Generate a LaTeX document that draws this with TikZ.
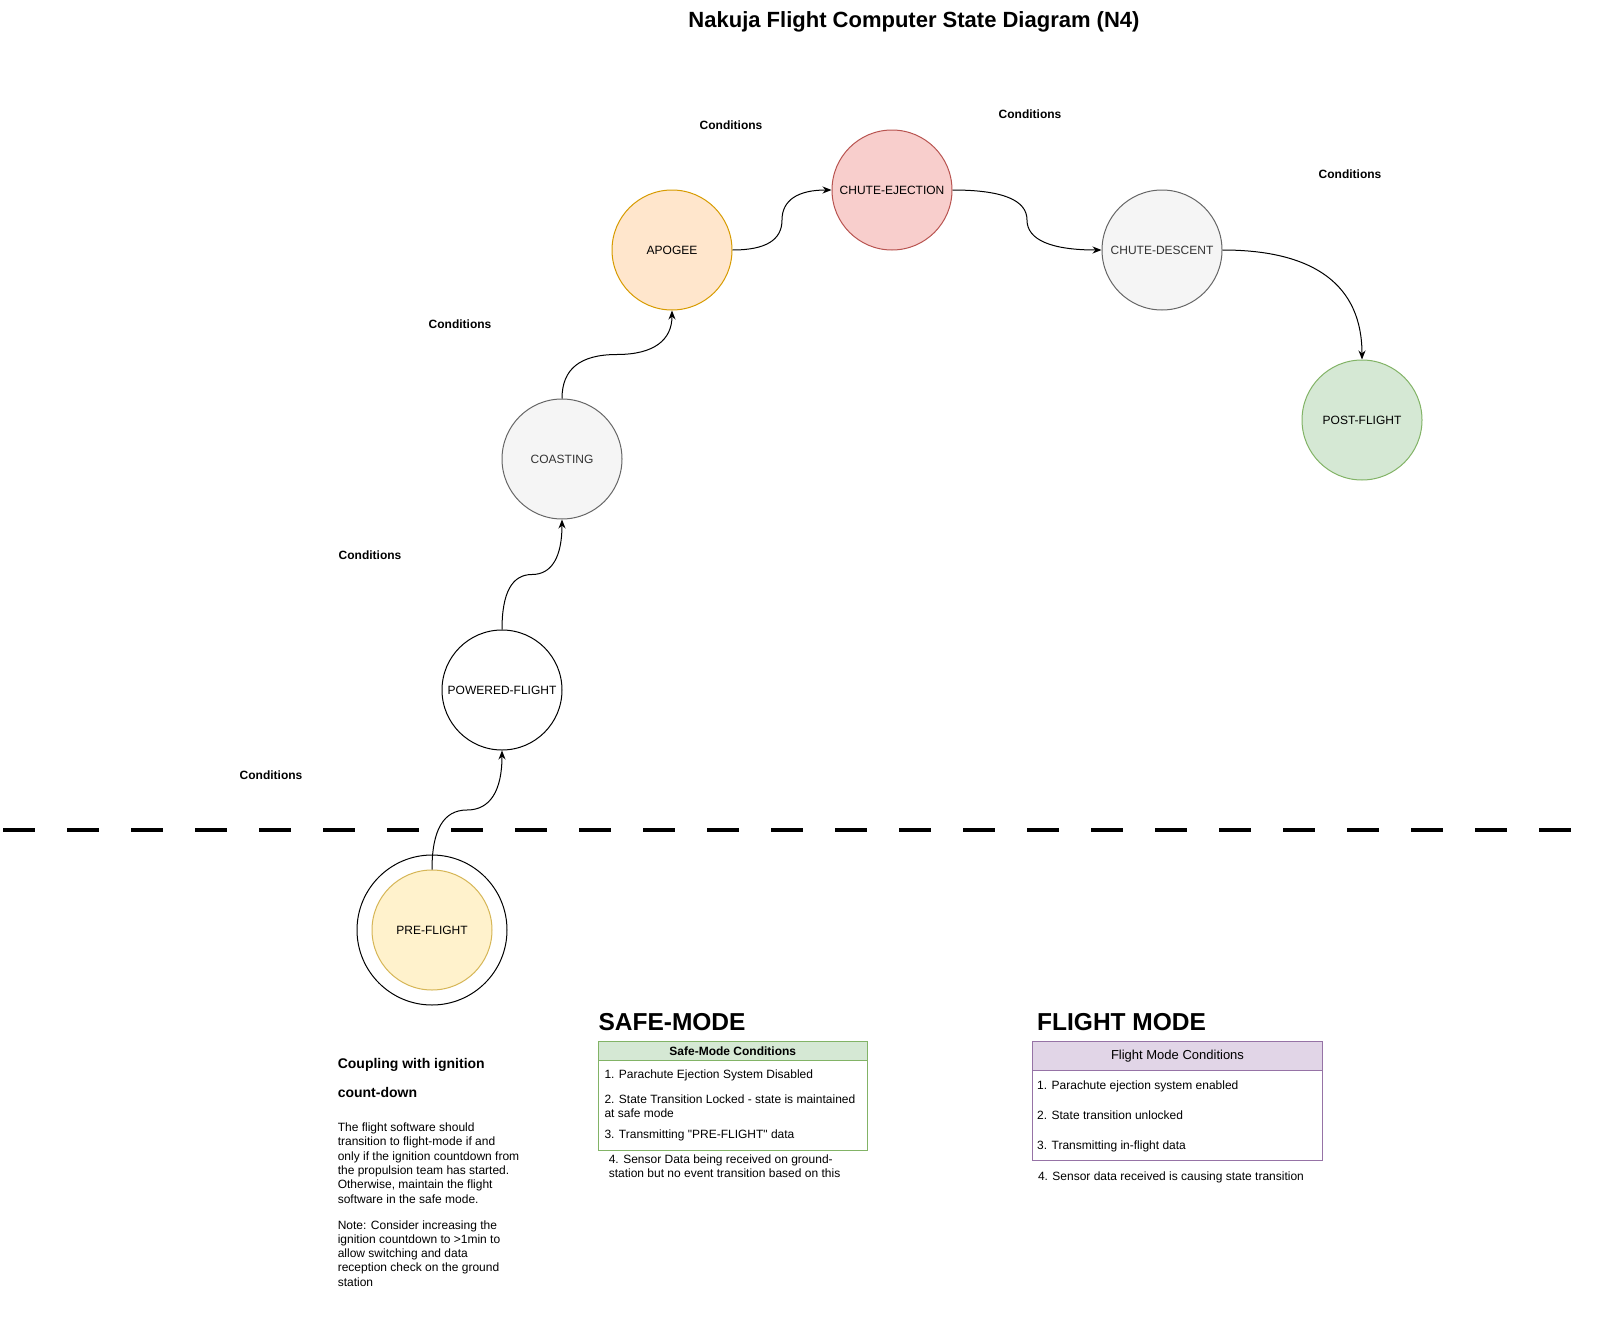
\documentclass[tikz,border=0pt]{standalone}
\usepackage{fontspec}
\setmainfont{Liberation Sans}[Ligatures=TeXOff]
\usetikzlibrary{arrows.meta,calc}
\definecolor{pfFill}{HTML}{FFF2CC}
\definecolor{pfLine}{HTML}{D6B656}
\definecolor{grFill}{HTML}{F5F5F5}
\definecolor{grLine}{HTML}{666666}
\definecolor{grText}{HTML}{333333}
\definecolor{apFill}{HTML}{FFE6CC}
\definecolor{apLine}{HTML}{D79B00}
\definecolor{ceFill}{HTML}{F8CECC}
\definecolor{ceLine}{HTML}{B85450}
\definecolor{gnFill}{HTML}{D5E8D4}
\definecolor{gnLine}{HTML}{82B366}
\definecolor{puFill}{HTML}{E1D5E7}
\definecolor{puLine}{HTML}{9673A6}
\begin{document}
\begin{tikzpicture}[x=1pt,y=-1pt,line width=1pt,
  state/.style={circle, draw, line width=1pt, minimum size=120pt, inner sep=0pt, font=\fontsize{12}{14.4}\selectfont},
  cond/.style={font=\bfseries\fontsize{12}{14.4}\selectfont, inner sep=0pt},
  txt/.style={font=\fontsize{12}{14.4}\selectfont, inner sep=0pt, anchor=base west},
  btxt/.style={font=\bfseries\fontsize{14}{16}\selectfont, inner sep=0pt, anchor=base west},
  heading/.style={font=\bfseries\fontsize{24.5}{29}\selectfont, inner sep=0pt, anchor=base west},
  flow/.style={line width=1pt, -{Stealth[length=9pt,width=7pt]}},
  box/.style={draw, line width=1pt, inner sep=0pt, anchor=north west}
]
\useasboundingbox (0,0) rectangle (1607,1330);

% title
\node[font=\bfseries\fontsize{22}{26}\selectfont, inner sep=0pt, anchor=base] (title) at (914,28) {Nakuja Flight Computer State Diagram (N4)};

% separator
\coordinate (dl) at (3,830);
\coordinate (dr) at (1571,830);
\draw[line width=4pt, dash pattern=on 32pt off 32pt] (dl) -- (dr);

% states
\node[state, minimum size=150pt, fill=white] (preout) at (432,930) {};
\node[state, fill=pfFill, draw=pfLine] (pre) at (432,930) {PRE-FLIGHT};
\node[state, fill=white] (pow) at (502,690) {POWERED-FLIGHT};
\node[state, fill=grFill, draw=grLine, text=grText] (coast) at (562,459) {COASTING};
\node[state, fill=apFill, draw=apLine] (apo) at (672,250) {APOGEE};
\node[state, fill=ceFill, draw=ceLine] (eject) at (892,190) {CHUTE-EJECTION};
\node[state, fill=grFill, draw=grLine, text=grText] (desc) at (1162,250) {CHUTE-DESCENT};
\node[state, fill=gnFill, draw=gnLine] (post) at (1362,420) {POST-FLIGHT};

% conditions labels
\node[cond] (c1) at (731,125) {Conditions};
\node[cond] (c2) at (1030,114) {Conditions};
\node[cond] (c3) at (1350,174) {Conditions};
\node[cond] (c4) at (460,324) {Conditions};
\node[cond] (c5) at (370,555) {Conditions};
\node[cond] (c6) at (271,775) {Conditions};

% transitions
\coordinate (m1) at ($(pre.north)!0.5!(pow.south)$);
\draw[flow] (pre.north) .. controls +(0,-40) and +(-23.3,0) .. (m1) .. controls +(23.3,0) and +(0,40) .. (pow.south);
\coordinate (m2) at ($(pow.north)!0.5!(coast.south)$);
\draw[flow] (pow.north) .. controls +(0,-37) and +(-20,0) .. (m2) .. controls +(20,0) and +(0,37) .. (coast.south);
\coordinate (m3) at ($(coast.north)!0.5!(apo.south)$);
\draw[flow] (coast.north) .. controls +(0,-29.7) and +(-36.7,0) .. (m3) .. controls +(36.7,0) and +(0,29.7) .. (apo.south);
\coordinate (m4) at ($(apo.east)!0.5!(eject.west)$);
\draw[flow] (apo.east) .. controls +(33.3,0) and +(0,20) .. (m4) .. controls +(0,-20) and +(-33.3,0) .. (eject.west);
\coordinate (m5) at ($(eject.east)!0.5!(desc.west)$);
\draw[flow] (eject.east) .. controls +(50,0) and +(0,-20) .. (m5) .. controls +(0,20) and +(-50,0) .. (desc.west);
\draw[flow] (desc.east) .. controls +(93.3,0) and +(0,-73.3) .. (post.north);

% coupling note
\node[btxt] (cp1) at (337.3,1068) {Coupling with ignition};
\node[btxt] (cp2) at (337.3,1097) {count-down};
\node[txt] (p1) at (337.3,1131.5) {The flight software should};
\node[txt] (p2) at (337.3,1145.8) {transition to flight-mode if and};
\node[txt] (p3) at (337.3,1160.1) {only if the ignition countdown from};
\node[txt] (p4) at (337.3,1174.4) {the propulsion team has started.};
\node[txt] (p5) at (337.3,1188.7) {Otherwise, maintain the flight};
\node[txt] (p6) at (337.3,1203) {software in the safe mode.};
\node[txt] (n1) at (337.3,1229) {Note: Consider increasing the};
\node[txt] (n2) at (337.3,1243.3) {ignition countdown to >1min to};
\node[txt] (n3) at (337.3,1257.6) {allow switching and data};
\node[txt] (n4) at (337.3,1271.9) {reception check on the ground};
\node[txt] (n5) at (337.3,1286.2) {station};

% safe mode
\node[heading] (safehd) at (598,1030.7) {SAFE-MODE};
\node[box, draw=gnLine, fill=white, minimum width=269.5pt, minimum height=109pt] (safebox) at (597.5,1041) {};
\node[box, draw=gnLine, fill=gnFill, minimum width=269.5pt, minimum height=19pt] (safehead) at (597.5,1041) {};
\node[cond] (safetitle) at (safehead.center) {Safe-Mode Conditions};
\node[txt] (s1) at (604,1078.3) {1. Parachute Ejection System Disabled};
\node[txt] (s2) at (604,1103.3) {2. State Transition Locked - state is maintained};
\node[txt] (s2b) at (604,1117.3) {at safe mode};
\node[txt] (s3) at (604,1138.3) {3. Transmitting "PRE-FLIGHT" data};
\node[txt] (s4) at (608.3,1163.3) {4. Sensor Data being received on ground-};
\node[txt] (s4b) at (608.3,1177.3) {station but no event transition based on this};

% flight mode
\node[heading] (flthd) at (1036.7,1030.5) {FLIGHT MODE};
\node[box, draw=puLine, fill=white, minimum width=290pt, minimum height=119pt] (fltbox) at (1032,1041) {};
\node[box, draw=puLine, fill=puFill, minimum width=290pt, minimum height=29pt] (flthead) at (1032,1041) {};
\node[font=\fontsize{13}{15}\selectfont, inner sep=0pt] (flttitle) at (flthead.center) {Flight Mode Conditions};
\node[txt] (f1) at (1036.7,1089) {1. Parachute ejection system enabled};
\node[txt] (f2) at (1036.7,1119) {2. State transition unlocked};
\node[txt] (f3) at (1036.7,1149) {3. Transmitting in-flight data};
\node[txt] (f4) at (1037.5,1180) {4. Sensor data received is causing state transition};
\end{tikzpicture}
\end{document}
